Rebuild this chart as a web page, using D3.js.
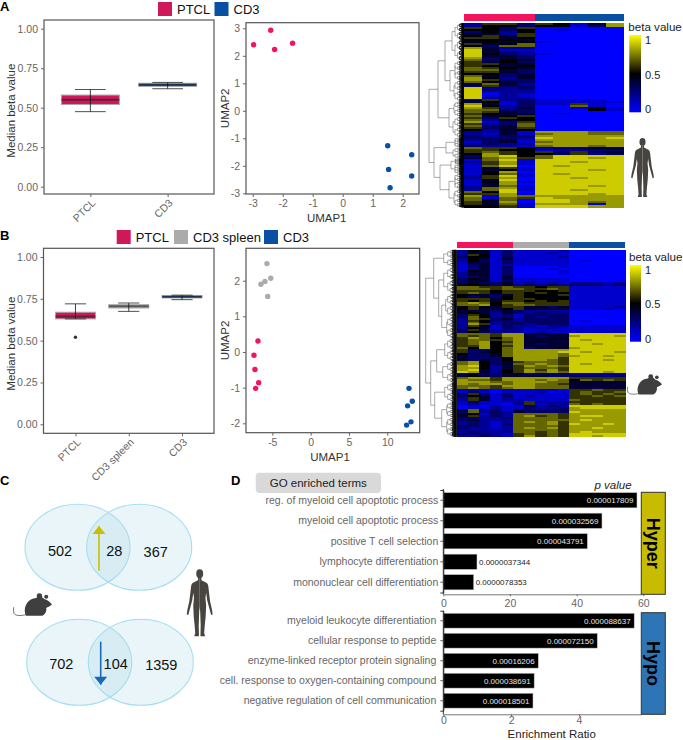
<!DOCTYPE html>
<html>
<head>
<meta charset="utf-8">
<script src="https://cdn.jsdelivr.net/npm/d3@7"></script>
<style>
  html, body { margin: 0; padding: 0; background: #fff; }
  svg { display: block; }
  text { font-family: "Liberation Sans", Arial, sans-serif; }
</style>
</head>
<body>
<svg id="fig" width="683" height="740"></svg>
<script>
// colours
const PINK = '#f2145c';
const SWATCH_PINK = '#d0175a';
const BLUE = '#0a50a2';
const GRAY = '#ababab';

// panel A box plot
const groupsA = ['PTCL', 'CD3'];
const lowA = [0.475, 0.62];
const q1A = [0.52, 0.635];
const medA = [0.55, 0.645];
const q3A = [0.58, 0.655];
const highA = [0.615, 0.66];
const boxColorsA = [SWATCH_PINK, BLUE];

// panel B box plot
const groupsB = ['PTCL', 'CD3 spleen', 'CD3'];
const lowB = [0.63, 0.675, 0.745];
const q1B = [0.63, 0.695, 0.755];
const medB = [0.645, 0.705, 0.762];
const q3B = [0.67, 0.715, 0.77];
const highB = [0.72, 0.725, 0.772];
const outlierB = [0.52, null, null];
const boxColorsB = [SWATCH_PINK, GRAY, BLUE];

const betaTicks = [0, 0.25, 0.5, 0.75, 1];

// UMAP A
const umapXA = [-2.97, -2.4, -2.27, -1.67, 1.5, 2.3, 1.53, 2.3, 1.58];
const umapYA = [2.4, 2.93, 2.23, 2.46, -1.27, -1.6, -2.13, -2.37, -2.8];
const umapGroupA = [0, 0, 0, 0, 1, 1, 1, 1, 1];

// UMAP B
const umapXB = [-5.7, -5.2, -5.96, -6.48, -5.6, -6.87, -7.39, -7.26, -6.78, -7.17, 12.83, 13.26, 12.65, 13.09, 12.52];
const umapYB = [2.48, 2.07, 1.98, 1.9, 1.56, 0.31, -0.09, -0.49, -0.86, -1.02, -1.02, -1.38, -1.51, -1.96, -2.05];
const umapGroupB = [1, 1, 1, 1, 1, 0, 0, 0, 0, 0, 2, 2, 2, 2, 2];

// heatmaps, one digit per cell: beta value x 10
const heatA = [
  '266365148', '255355138', '653600000', '553501000', '352500000', '442600000',
  '564600000', '664500000', '555400000', '454510000', '645700000', '537700000',
  '842200000', '941100000', '943200000', '953210000', '944300000', '834300000',
  '735400000', '645300000', '664400000', '654500000', '765400000', '774300000',
  '664300000', '553400000', '743400000', '852400000', '863300000', '754300000',
  '474200000', '363300000', '922300000', '932200000', '912200000', '902100000',
  '912100000', '922200000', '362311110', '451311111', '841311610', '952300710',
  '862400151', '773300051', '764300000', '654401000', '745600000', '636500000',
  '724500000', '813600000', '623700000', '734700000', '634600000', '524500000',
  '224188877', '214178877', '323388888', '333298889', '234188888', '134178888',
  '232288888', '322178878', '766523344', '665512233', '676563634', '586553623',
  '389579999', '478679989', '179199999', '268199899', '168199999', '179098999',
  '146199999', '145199989', '158099999', '157198999', '269199999', '268099899',
  '149099999', '158199999', '148099999', '247199989', '278199999', '279199899',
  '759099999', '668199989', '818788888', '717698888', '757099888', '648099878',
  '647188818', '556199988'
];
const heatB = [
  '254131111200000', '244131112100000', '265131111100000', '355131111200000',
  '254141111100000', '253131111101000', '144131111100000', '134121111100000',
  '134130000100000', '124130001000000', '154130000100000', '244130000100000',
  '244130000000000', '234140000000000', '354141111100000', '344131111100000',
  '343341212122212', '454342323233323', '776676656611111', '777677667611111',
  '666566655611111', '676566565511111', '544346555611111', '534356555511111',
  '666456655511111', '656466565611111', '787577666611111', '778567766611111',
  '565466443411112', '564456444411121', '444343222200000', '454243232200000',
  '365231333300000', '375231323300000', '276342333300000', '265332333301000',
  '275233333300000', '286233233300000', '264132212211111', '254132122111111',
  '364222111111111', '353222121111111', '777688444499999', '767688434489998',
  '687578444499999', '677678444498999', '678568444499999', '678578434499899',
  '668568444499999', '758578344489999', '633578888899999', '634578888998998',
  '533478888799999', '433478888789989', '433358888699999', '434358887699989',
  '785346777699999', '785347787698999', '895246878799999', '885246777699999',
  '894256868699999', '984256878799989', '343344333322222', '454344443333323',
  '788688888866666', '877688878757676', '888778887744444', '878878877644444',
  '777688877744444', '787678877744344', '121011111066766', '131011120167667',
  '363131111167676', '354131211166767', '264121111166666', '264122111176666',
  '131112622266666', '121102612276766', '010211323299999', '011211322389999',
  '472314333388888', '372324333398888', '451327777688888', '462327867689988',
  '332237777688888', '342227777789888', '232127878688888', '232137778698898',
  '332127777688888', '322127878688988', '222227777688888', '232227767689888',
  '323216767699999', '223216867699899'
];
const heatGroupsA = [[0, 4, PINK], [4, 9, BLUE]];
const heatGroupsB = [[0, 5, PINK], [5, 10, GRAY], [10, 15, BLUE]];

// dendrograms: [height in px, child, child], a bare number is a leaf bundle
const treeA = [35,
  [26, [19, [12, 48, 60], [14, [9, 28, 28], [10, 30, 30]]], [15, [10, 20, 24], [11, 30, 30]]],
  [30, [18, [9, 14, 14], [11, 16, 16]], [24, [13, [8, 8, 8], [9, 14, 14]], [15, [9, 22, 22], [10, 26, 26]]]]
];
const treeB = [31,
  [23, [13, 22, 22], [18, [13, 34, 36], [15, [11, 30, 30], [10, 28, 28]]]],
  [26, [20, [12, 30, 30], [14, 28, 28]], [22, [12, 24, 26], [15, [10, 20, 20], [10, 24, 26]]]]
];

// venn counts
const vennUp = [502, 28, 367];
const vennDown = [702, 104, 1359];

// GO terms
const hyperTerms = ['reg. of myeloid cell apoptotic process', 'myeloid cell apoptotic process', 'positive T cell selection', 'lymphocyte differentiation', 'mononuclear cell differentiation'];
const hyperRatio = [58.1, 47.6, 43.2, 10.1, 9.1];
const hyperP = ['0.000017809', '0.000032569', '0.000043791', '0.0000037344', '0.0000078353'];
const hypoTerms = ['myeloid leukocyte differentiation', 'cellular response to peptide', 'enzyme-linked receptor protein signaling', 'cell. response to oxygen-containing compound', 'negative regulation of cell communication'];
const hypoRatio = [5.63, 4.54, 2.8, 2.68, 2.645];
const hypoP = ['0.000088637', '0.000072150', '0.00016206', '0.000038691', '0.000018501'];

const svg = d3.select('#fig');
const heatColor = d3.scaleLinear().domain([0, 0.5, 1]).range(['#0000ff', '#000000', '#ffff00']);

const styleAxis = (g) => {
  g.selectAll('.tick line').attr('stroke', '#666');
  g.selectAll('.tick text').attr('fill', '#666').style('font-size', '10.5px').style('font-family', '"Liberation Sans", Arial, sans-serif');
  g.select('.domain').attr('stroke', 'none');
};

const frame = (x0, x1, y0, y1) => {
  svg.append('rect')
    .attr('x', x0).attr('y', y0)
    .attr('width', x1 - x0).attr('height', y1 - y0)
    .attr('fill', 'none').attr('stroke', '#555').attr('stroke-width', 1.2);
};

const drawBox = (o) => {
  const x = d3.scalePoint().domain(o.groups).range([o.x0, o.x1]).padding(0.6);
  const y = d3.scaleLinear().domain([0, 1]).range([o.yZero, o.yOne]);
  const boxW = x.step() * 0.75;
  const capW = boxW * 0.53;
  const g = svg.append('g');
  o.groups.forEach((name, i) => {
    const cx = x(name);
    g.append('rect')
      .attr('x', cx - boxW / 2).attr('width', boxW)
      .attr('y', y(o.q3[i])).attr('height', y(o.q1[i]) - y(o.q3[i]))
      .attr('fill', o.colors[i]).attr('stroke', '#aaa').attr('stroke-width', 1);
    g.append('line')
      .attr('x1', cx - boxW / 2).attr('x2', cx + boxW / 2)
      .attr('y1', y(o.med[i])).attr('y2', y(o.med[i]))
      .attr('stroke', '#222').attr('stroke-opacity', 0.6).attr('stroke-width', 2);
    g.append('line')
      .attr('x1', cx).attr('x2', cx)
      .attr('y1', y(o.high[i])).attr('y2', y(o.low[i]))
      .attr('stroke', '#111').attr('stroke-width', 0.8);
    [o.high[i], o.low[i]].forEach(v => {
      g.append('line')
        .attr('x1', cx - capW / 2).attr('x2', cx + capW / 2)
        .attr('y1', y(v)).attr('y2', y(v))
        .attr('stroke', '#222').attr('stroke-width', 0.8);
    });
    if (o.outlier && o.outlier[i] !== null) {
      g.append('circle').attr('cx', cx).attr('cy', y(o.outlier[i])).attr('r', 1.7).attr('fill', '#333');
    }
  });
  frame(o.x0, o.x1, o.y0, o.y1);
  svg.append('g')
    .attr('transform', `translate(${o.x0},0)`)
    .call(d3.axisLeft(y).tickValues(betaTicks).tickFormat(d3.format('.2f')).tickSize(3))
    .call(styleAxis);
  const xAxis = svg.append('g')
    .attr('transform', `translate(0,${o.y1})`)
    .call(d3.axisBottom(x).tickSize(3))
    .call(styleAxis);
  xAxis.selectAll('.tick text')
    .attr('text-anchor', 'end')
    .attr('dx', '-3px').attr('dy', '4.5px')
    .attr('transform', 'rotate(-45)');
  svg.append('text')
    .attr('transform', `translate(15,${(o.yZero + o.yOne) / 2 + 3}) rotate(-90)`)
    .attr('text-anchor', 'middle')
    .attr('fill', '#333')
    .style('font-size', '11.5px')
    .text('Median beta value');
};

const drawUmap = (o) => {
  const x = d3.scaleLinear().domain(o.xDomain).range(o.xRange);
  const y = d3.scaleLinear().domain(o.yDomain).range(o.yRange);
  frame(o.x0, o.x1, o.y0, o.y1);
  svg.append('g')
    .attr('transform', `translate(${o.x0},0)`)
    .call(d3.axisLeft(y).tickValues(o.yTicks).tickFormat(d => String(d)).tickSize(3))
    .call(styleAxis);
  svg.append('g')
    .attr('transform', `translate(0,${o.y1})`)
    .call(d3.axisBottom(x).tickValues(o.xTicks).tickFormat(d => String(d)).tickSize(3))
    .call(styleAxis);
  svg.append('g').selectAll('circle')
    .data(o.xs)
    .join('circle')
    .attr('cx', d => x(d))
    .attr('cy', (d, i) => y(o.ys[i]))
    .attr('r', 2.7)
    .attr('fill', (d, i) => o.colors[o.group[i]]);
  svg.append('text')
    .attr('x', o.titleX).attr('y', o.y1 + 28)
    .attr('text-anchor', 'middle').attr('fill', '#333')
    .style('font-size', '11.5px').text('UMAP1');
  svg.append('text')
    .attr('transform', `translate(${o.x0 - 17},${(o.y0 + o.y1) / 2}) rotate(-90)`)
    .attr('text-anchor', 'middle').attr('fill', '#333')
    .style('font-size', '11.5px').text('UMAP2');
};

// splits a bundle of leaves in two until single leaves are left
const bundle = (n, h) => {
  if (n <= 1) return { h: 0 };
  const left = Math.floor(n / 2);
  return { h, kids: [bundle(left, h * 0.72), bundle(n - left, h * 0.72)] };
};
const toNode = (spec) => {
  if (typeof spec === 'number') return bundle(spec, 9);
  return { h: spec[0], kids: spec.slice(1).map(toNode) };
};

const drawDendro = (spec, right, y0, y1) => {
  const root = d3.hierarchy(toNode(spec), d => d.kids);
  d3.cluster().size([y1 - y0, 1]).separation(() => 1)(root);
  svg.append('g')
    .attr('fill', 'none')
    .selectAll('path')
    .data(root.links())
    .join('path')
    .attr('stroke', l => l.source.data.h < 5 ? '#000' : '#555')
    .attr('stroke-width', l => l.source.data.h < 5 ? 0.9 : 0.5)
    .attr('d', l => `M${right - l.source.data.h},${y0 + l.source.x}V${y0 + l.target.x}H${right - l.target.data.h}`);
};

const drawHeat = (o) => {
  const cols = d3.range(o.rows[0].length);
  const x = d3.scaleBand().domain(cols).range([o.x0, o.x1]);
  const y = d3.scaleBand().domain(d3.range(o.rows.length)).range([o.y0, o.y1]);
  const g = svg.append('g').attr('shape-rendering', 'crispEdges');
  o.rows.forEach((row, r) => {
    g.append('g').selectAll('rect')
      .data(row.split('').map(Number))
      .join('rect')
      .attr('x', (d, i) => x(i))
      .attr('y', y(r))
      .attr('width', x.bandwidth() + 0.5)
      .attr('height', y.bandwidth() + 0.5)
      .attr('fill', d => heatColor(d / 10));
  });
  g.append('g').selectAll('rect')
    .data(o.groups)
    .join('rect')
    .attr('x', d => x(d[0]))
    .attr('width', d => (d[1] - d[0]) * x.step())
    .attr('y', o.annoY)
    .attr('height', o.annoH)
    .attr('fill', d => d[2]);
  drawDendro(o.tree, o.x0, o.y0, o.y1);
};

const drawColorBar = (id, x0, x1, y0, y1, titleY) => {
  const grad = svg.append('defs').append('linearGradient')
    .attr('id', id).attr('x1', 0).attr('x2', 0).attr('y1', 1).attr('y2', 0);
  [0, 0.5, 1].forEach(v => {
    grad.append('stop').attr('offset', v).attr('stop-color', heatColor(v));
  });
  svg.append('rect')
    .attr('x', x0).attr('y', y0)
    .attr('width', x1 - x0).attr('height', y1 - y0)
    .attr('fill', `url(#${id})`);
  const y = d3.scaleLinear().domain([0, 1]).range([y1 - 3, y0 + 5]);
  svg.append('g').selectAll('text')
    .data([0, 0.5, 1])
    .join('text')
    .attr('x', x1 + 4).attr('y', d => y(d)).attr('dy', '0.35em')
    .attr('fill', '#222')
    .style('font-size', '11px')
    .text(d => d);
  svg.append('text')
    .attr('x', x0 - 1).attr('y', titleY)
    .attr('fill', '#222')
    .style('font-size', '11.6px')
    .text('beta value');
};

const drawLegend = (items, y) => {
  items.forEach(d => {
    svg.append('rect').attr('x', d.x).attr('y', y).attr('width', 14).attr('height', 14).attr('fill', d.color);
    svg.append('text')
      .attr('x', d.x + 19).attr('y', y + 12)
      .attr('fill', '#111')
      .style('font-size', '13px')
      .text(d.label);
  });
};

const drawHuman = (x, y, h) => {
  const k = h / 270;
  const g = svg.append('g').attr('transform', `translate(${x},${y}) scale(${k})`).attr('fill', '#48443f');
  g.append('ellipse').attr('cx', 0).attr('cy', 18).attr('rx', 14).attr('ry', 18);
  const half = 'M0,34 L7,34 L7,44 L27,54 Q35,58 36,80 L42,130 L50,165 L52,182 L46,184 L41,165 L30,125 L26,95 L23,115 L26,145 L24,190 L20,230 L18,258 L22,270 L3,270 L4,225 L2,170 L0,150 Z';
  g.append('path').attr('d', half);
  g.append('path').attr('d', half).attr('transform', 'scale(-1,1)');
};

const drawMouse = (x, y, w) => {
  const k = w / 115;
  const g = svg.append('g').attr('transform', `translate(${x},${y}) scale(${k})`).attr('fill', '#3f3f3f');
  g.append('path').attr('d', 'M36,62 C30,38 46,16 68,15 C76,8 88,10 92,18 C100,20 110,27 115,34 C108,40 102,42 98,44 C100,54 94,64 86,67 L38,67 Z');
  g.append('circle').attr('cx', 78).attr('cy', 9).attr('r', 8);
  g.append('circle').attr('cx', 98).attr('cy', 11).attr('r', 6);
  g.append('path')
    .attr('d', 'M40,63 C25,68 8,68 3,60 Q0,52 2,42')
    .attr('fill', 'none').attr('stroke', '#555').attr('stroke-width', 2.4);
};

const drawVenn = (o) => {
  const g = svg.append('g');
  [o.cxL, o.cxR].forEach(cx => {
    g.append('ellipse')
      .attr('cx', cx).attr('cy', o.cy).attr('rx', 52.5).attr('ry', 43)
      .attr('fill', '#a9d8e4').attr('fill-opacity', 0.25)
      .attr('stroke', '#a6def0').attr('stroke-width', 1.1);
  });
  o.counts.forEach((v, i) => {
    g.append('text')
      .attr('x', o.labelX[i]).attr('y', o.labelY[i]).attr('dy', '0.35em')
      .attr('text-anchor', 'middle').attr('fill', '#111')
      .style('font-size', '14.5px')
      .text(v);
  });
  g.append('line')
    .attr('x1', o.arrowX).attr('x2', o.arrowX)
    .attr('y1', o.arrowFrom).attr('y2', o.arrowTo)
    .attr('stroke', o.arrowColor).attr('stroke-width', 1.6);
  const dir = o.arrowTo < o.arrowFrom ? -1 : 1;
  g.append('path')
    .attr('d', `M${o.arrowX - 6.5},${o.arrowTo - dir * 8}L${o.arrowX + 6.5},${o.arrowTo - dir * 8}L${o.arrowX},${o.arrowTo}Z`)
    .attr('fill', o.arrowColor);
};

const drawBars = (o) => {
  const x = d3.scaleLinear().domain([0, o.xMax]).range([o.x0, o.x1]);
  const y = d3.scaleBand().domain(o.terms).range([o.yTop, o.yBottom]).paddingInner(0.26).paddingOuter(0.13);
  svg.append('g').selectAll('rect')
    .data(o.values)
    .join('rect')
    .attr('x', o.x0)
    .attr('y', (d, i) => y(o.terms[i]))
    .attr('width', d => x(d) - o.x0)
    .attr('height', y.bandwidth())
    .attr('fill', '#000')
    .attr('stroke', '#bbb').attr('stroke-width', 0.5);
  svg.append('g').selectAll('text')
    .data(o.values)
    .join('text')
    .attr('x', d => d > 20 || o.xMax < 10 ? x(d) - 3.5 : x(d) + 2)
    .attr('y', (d, i) => y(o.terms[i]) + y.bandwidth() / 2)
    .attr('dy', '0.35em')
    .attr('text-anchor', d => d > 20 || o.xMax < 10 ? 'end' : 'start')
    .attr('fill', d => d > 20 || o.xMax < 10 ? '#e4e4e4' : '#222')
    .style('font-size', '8px')
    .text((d, i) => o.pvals[i]);
  const yAxis = svg.append('g')
    .attr('transform', `translate(${o.x0},0)`)
    .call(d3.axisLeft(y).tickSize(3).tickPadding(o.labelPad))
    .call(styleAxis);
  yAxis.select('.domain').attr('stroke', '#333');
  const xAxis = svg.append('g')
    .attr('transform', `translate(0,${o.axisY})`)
    .call(d3.axisBottom(x).tickValues(o.ticks).tickFormat(d => String(d)).tickSize(2).tickSizeOuter(0).tickPadding(o.tickPad))
    .call(styleAxis);
  xAxis.select('.domain').attr('stroke', '#777');
  svg.append('line')
    .attr('x1', o.x0).attr('x2', o.x0)
    .attr('y1', o.lineTop).attr('y2', o.axisY)
    .attr('stroke', '#333').attr('stroke-width', 1);
  svg.append('rect')
    .attr('x', o.x1).attr('y', o.stripTop)
    .attr('width', 24).attr('height', o.axisY - o.stripTop)
    .attr('fill', o.stripColor)
    .attr('stroke', '#333').attr('stroke-width', 1);
  const cy = (o.stripTop + o.axisY) / 2;
  svg.append('text')
    .attr('transform', `translate(${o.x1 + 12},${cy}) rotate(90)`)
    .attr('text-anchor', 'middle').attr('dy', '0.33em')
    .attr('fill', '#000').attr('font-weight', 'bold')
    .style('font-size', '18px')
    .text(o.stripLabel);
};

// panel letters
[['A', 0, 11, 13], ['B', 0, 240, 13], ['C', 0, 485, 13], ['D', 231, 485, 13]].forEach(d => {
  svg.append('text').attr('x', d[1]).attr('y', d[2])
    .attr('font-weight', 'bold').attr('fill', '#000')
    .style('font-size', `${d[3]}px`).text(d[0]);
});

// row A
drawLegend([
  { x: 158, color: SWATCH_PINK, label: 'PTCL' },
  { x: 214.5, color: BLUE, label: 'CD3' }
], 2);
drawBox({
  groups: groupsA, low: lowA, q1: q1A, med: medA, q3: q3A, high: highA, colors: boxColorsA,
  x0: 44, x1: 214, y0: 20, y1: 194, yZero: 186.7, yOne: 28.7
});
drawUmap({
  xs: umapXA, ys: umapYA, group: umapGroupA, colors: [PINK, BLUE],
  xDomain: [-3, 2], xRange: [252.7, 402.7], yDomain: [-3, 3], yRange: [193.3, 28.3],
  xTicks: d3.range(-3, 3), yTicks: d3.range(-3, 4),
  x0: 246, x1: 419, y0: 22.7, y1: 194, titleX: 326.7
});
drawHeat({
  rows: heatA, groups: heatGroupsA, tree: treeA,
  x0: 464, x1: 623.7, y0: 23.3, y1: 207.3, annoY: 14, annoH: 6.7
});
drawColorBar('barA', 629.3, 641, 35, 112.3, 31);
drawHuman(642.5, 138, 59);

// row B
drawLegend([
  { x: 116.7, color: SWATCH_PINK, label: 'PTCL' },
  { x: 174, color: GRAY, label: 'CD3 spleen' },
  { x: 264, color: BLUE, label: 'CD3' }
], 230);
drawBox({
  groups: groupsB, low: lowB, q1: q1B, med: medB, q3: q3B, high: highB, outlier: outlierB, colors: boxColorsB,
  x0: 43.5, x1: 214, y0: 248.3, y1: 433.3, yZero: 424.3, yOne: 257
});
drawUmap({
  xs: umapXB, ys: umapYB, group: umapGroupB, colors: [PINK, GRAY, BLUE],
  xDomain: [-5, 10], xRange: [272.3, 387.3], yDomain: [-2, 2], yRange: [423.3, 280.7],
  xTicks: [-5, 0, 5, 10], yTicks: d3.range(-2, 3),
  x0: 246, x1: 419.7, y0: 248.3, y1: 432.7, titleX: 330
});
drawHeat({
  rows: heatB, groups: heatGroupsB, tree: treeB,
  x0: 456.7, x1: 625.3, y0: 250, y1: 436.7, annoY: 242.3, annoH: 6
});
drawColorBar('barB', 630, 641, 265, 341.7, 261);
drawMouse(627, 374, 35);

// panel C
drawVenn({
  cxL: 77.5, cxR: 139.2, cy: 547.3, counts: vennUp,
  labelX: [60, 114.3, 155.7], labelY: [550.7, 550.7, 551.7],
  arrowX: 99, arrowFrom: 570.7, arrowTo: 526, arrowColor: '#c8bf00'
});
drawVenn({
  cxL: 79.2, cxR: 140.8, cy: 662.3, counts: vennDown,
  labelX: [61.3, 115.7, 161.3], labelY: [664.3, 664.3, 665],
  arrowX: 100.7, arrowFrom: 641.7, arrowTo: 684.7, arrowColor: '#1a69b8'
});
drawMouse(13, 593, 39);
drawHuman(199.7, 569.3, 67);

// panel D
svg.append('rect')
  .attr('x', 255.7).attr('y', 472.7).attr('width', 125.3).attr('height', 20.3)
  .attr('rx', 4).attr('fill', '#d9d9d9');
svg.append('text')
  .attr('x', 318.3).attr('y', 483).attr('dy', '0.35em')
  .attr('text-anchor', 'middle').attr('fill', '#222')
  .style('font-size', '11.5px').text('GO enriched terms');
svg.append('text')
  .attr('x', 613).attr('y', 489)
  .attr('text-anchor', 'middle').attr('fill', '#222')
  .attr('font-style', 'italic')
  .style('font-size', '11.5px').text('p value');
drawBars({
  terms: hyperTerms, values: hyperRatio, pvals: hyperP, xMax: 59.4, ticks: [0, 20, 40, 60], labelPad: 2, tickPad: 3,
  x0: 443.3, x1: 641.3, yTop: 490, yBottom: 592.5, axisY: 594.3, lineTop: 489,
  stripTop: 492.3, stripColor: '#c8bc00', stripLabel: 'Hyper'
});
drawBars({
  terms: hypoTerms, values: hypoRatio, pvals: hypoP, xMax: 5.84, ticks: [0, 2, 4], labelPad: 4, tickPad: 0.5,
  x0: 443.3, x1: 641.3, yTop: 610.7, yBottom: 710.7, axisY: 714.3, lineTop: 610.7,
  stripTop: 612.7, stripColor: '#2e75b6', stripLabel: 'Hypo'
});
svg.append('text')
  .attr('x', 551.7).attr('y', 737.5)
  .attr('text-anchor', 'middle').attr('fill', '#222')
  .style('font-size', '11.5px').text('Enrichment Ratio');
</script>
</body>
</html>
